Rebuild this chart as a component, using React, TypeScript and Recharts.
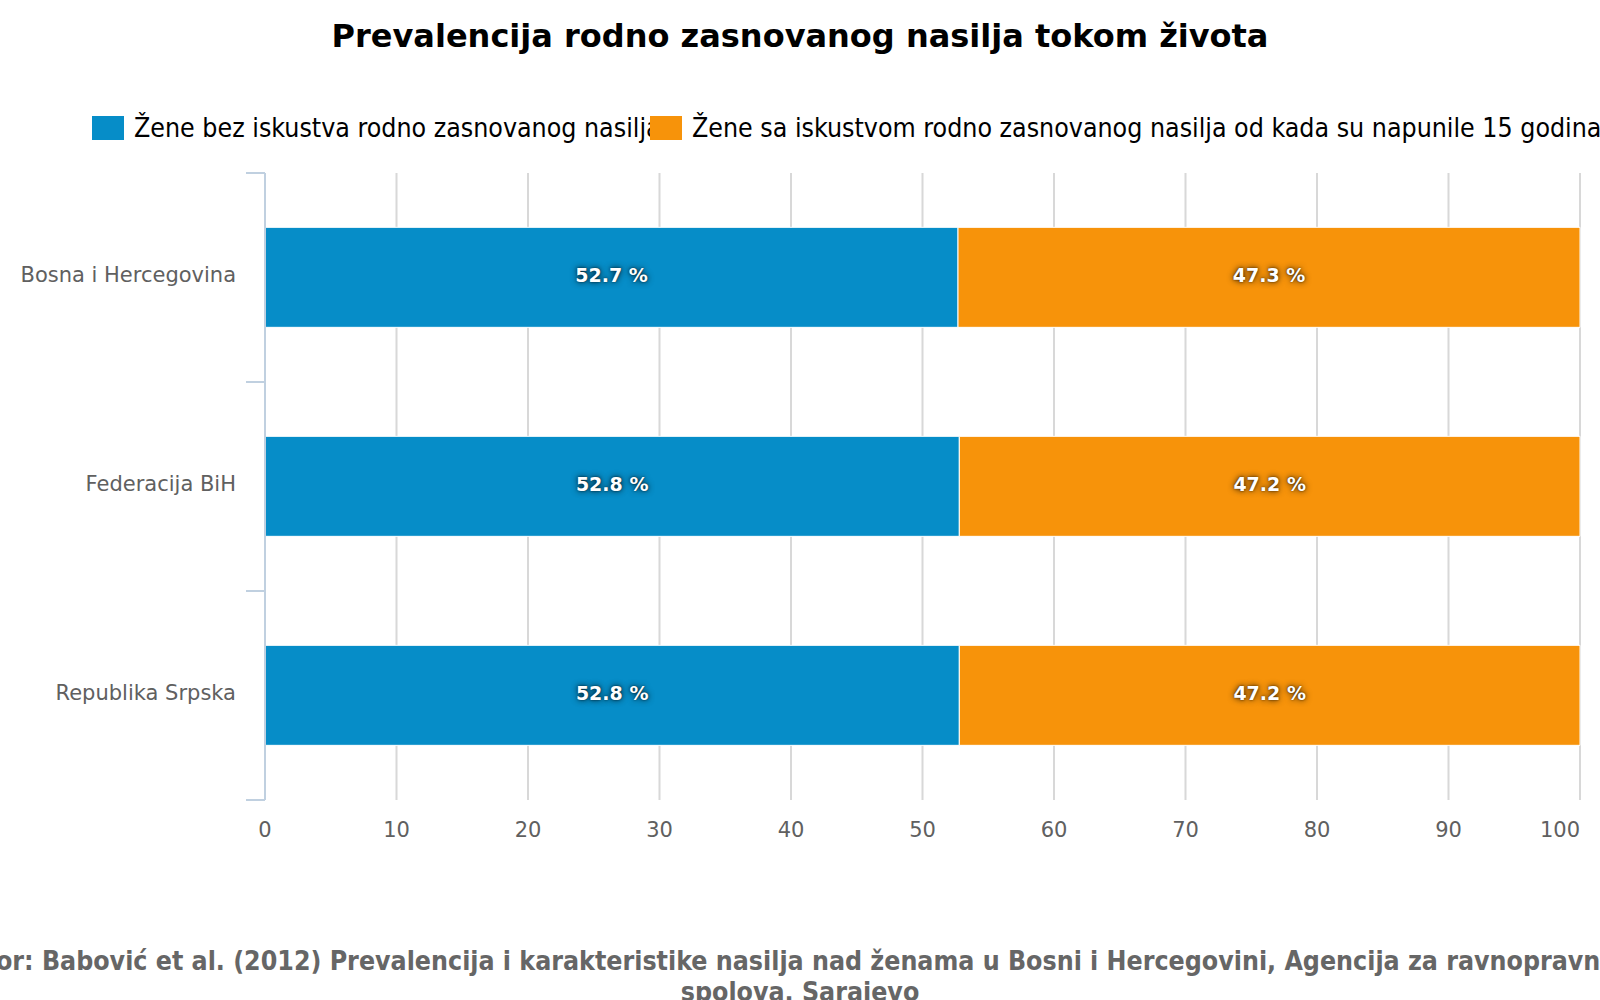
import React from 'react';
import { Bar, BarChart, CartesianGrid, LabelList, XAxis, YAxis } from 'recharts';

const regions = ['Bosna i Hercegovina', 'Federacija BiH', 'Republika Srpska'];
const withoutViolence = [52.7, 52.8, 52.8];
const withViolence = [47.3, 47.2, 47.2];
const xTicks = [0, 10, 20, 30, 40, 50, 60, 70, 80, 90, 100];

const seriesNames = [
  'Žene bez iskustva rodno zasnovanog nasilja',
  'Žene sa iskustvom rodno zasnovanog nasilja od kada su napunile 15 godina',
];
const seriesColors = ['#068DC8', '#F7930A'];

const TITLE = 'Prevalencija rodno zasnovanog nasilja tokom života';
const SOURCE_LINE_1 =
  'Izvor: Babović et al. (2012) Prevalencija i karakteristike nasilja nad ženama u Bosni i Hercegovini, Agencija za ravnopravnost';
const SOURCE_LINE_2 = 'spolova, Sarajevo';

const W = 1600;
const H = 1000;
const MARGIN = { top: 173, right: 20, bottom: 140, left: 0 };
const Y_AXIS_W = 265;
const X_AXIS_H = 60;
const PLOT_H = H - MARGIN.top - MARGIN.bottom - X_AXIS_H;
const BAND = PLOT_H / regions.length;
const AXIS_COLOR = '#C0D0E0';

const data = regions.map((name, i) => ({
  name,
  without: withoutViolence[i],
  with: withViolence[i],
}));

function RegionTick(props: any) {
  const { x, y, payload, index, visibleTicksCount } = props;
  const axisX = MARGIN.left + Y_AXIS_W;
  return (
    <g>
      <line x1={axisX - 19} x2={axisX} y1={y - BAND / 2} y2={y - BAND / 2} stroke={AXIS_COLOR} strokeWidth={2} />
      {index === visibleTicksCount - 1 && (
        <line x1={axisX - 19} x2={axisX} y1={y + BAND / 2} y2={y + BAND / 2} stroke={AXIS_COLOR} strokeWidth={2} />
      )}
      <text
        x={x}
        y={y - 3}
        textAnchor="end"
        dominantBaseline="central"
        fill="#606060"
        fontSize={21}
        fontFamily="DejaVu Sans"
      >
        {payload.value}
      </text>
    </g>
  );
}

// last label is pulled inside the plot, like the original
function ValueTick(props: any) {
  const { x, y, payload, index, visibleTicksCount } = props;
  const isLast = index === visibleTicksCount - 1;
  return (
    <text
      x={x}
      y={y}
      dy="0.71em"
      textAnchor={isLast ? 'end' : 'middle'}
      fill="#606060"
      fontSize={21}
      fontFamily="DejaVu Sans"
    >
      {payload.value}
    </text>
  );
}

function PercentLabel(props: any) {
  const { x, y, width, height, value } = props;
  return (
    <text
      x={x + width / 2}
      y={y + height / 2 - 2}
      textAnchor="middle"
      dominantBaseline="central"
      fill="#fff"
      fontSize={19}
      fontWeight="bold"
      fontFamily="DejaVu Sans"
      style={{ textShadow: '0 0 6px rgba(0,0,0,0.85), 0 0 2px rgba(0,0,0,0.6)' }}
    >
      {`${value} %`}
    </text>
  );
}

function LegendRow() {
  const items = [
    { name: seriesNames[0], color: seriesColors[0], left: 92 },
    { name: seriesNames[1], color: seriesColors[1], left: 650 },
  ];
  return (
    <>
      {items.map((it) => (
        <div
          key={it.name}
          style={{ position: 'absolute', left: it.left, top: 113, display: 'flex', alignItems: 'center', whiteSpace: 'nowrap' }}
        >
          <div style={{ width: 32, height: 24, background: it.color, marginRight: 10 }} />
          <span
            style={{
              fontFamily: 'DejaVu Sans Condensed, DejaVu Sans',
              fontSize: 26.5,
              lineHeight: '30px',
              color: '#000',
            }}
          >
            {it.name}
          </span>
        </div>
      ))}
    </>
  );
}

export default function App() {
  return (
    <div
      style={{
        position: 'absolute',
        left: 0,
        top: 0,
        width: W,
        height: H,
        overflow: 'hidden',
        background: '#fff',
      }}
    >
      <div
        style={{
          position: 'absolute',
          top: 16,
          left: 0,
          width: W,
          textAlign: 'center',
          fontFamily: 'DejaVu Sans',
          fontWeight: 'bold',
          fontSize: 32,
          lineHeight: '40px',
          color: '#000',
        }}
      >
        {TITLE}
      </div>
      <LegendRow />
      <div style={{ position: 'absolute', left: 0, top: 0 }}>
        <BarChart width={W} height={H} data={data} layout="vertical" margin={MARGIN} barCategoryGap="26%">
          <CartesianGrid horizontal={false} stroke="#D8D8D8" strokeWidth={2} />
          <XAxis
            type="number"
            domain={[0, 100]}
            ticks={xTicks}
            axisLine={false}
            tickLine={false}
            height={X_AXIS_H}
            tickMargin={16}
            tick={<ValueTick />}
            interval={0}
          />
          <YAxis
            type="category"
            dataKey="name"
            width={Y_AXIS_W}
            axisLine={{ stroke: AXIS_COLOR, strokeWidth: 2 }}
            tickLine={false}
            tickSize={19}
            tickMargin={10}
            tick={<RegionTick />}
            interval={0}
          />
          <Bar dataKey="without" stackId="a" fill={seriesColors[0]} stroke="#fff" strokeWidth={1} isAnimationActive={false}>
            <LabelList dataKey="without" content={<PercentLabel />} />
          </Bar>
          <Bar dataKey="with" stackId="a" fill={seriesColors[1]} stroke="#fff" strokeWidth={1} isAnimationActive={false}>
            <LabelList dataKey="with" content={<PercentLabel />} />
          </Bar>
        </BarChart>
      </div>
      <div
        style={{
          position: 'absolute',
          top: 945,
          left: -300,
          width: W + 600,
          textAlign: 'center',
          fontFamily: 'DejaVu Sans Condensed, DejaVu Sans',
          fontWeight: 'bold',
          fontSize: 26.5,
          lineHeight: '31px',
          color: '#666',
          whiteSpace: 'nowrap',
        }}
      >
        {SOURCE_LINE_1}
        <br />
        {SOURCE_LINE_2}
      </div>
    </div>
  );
}
